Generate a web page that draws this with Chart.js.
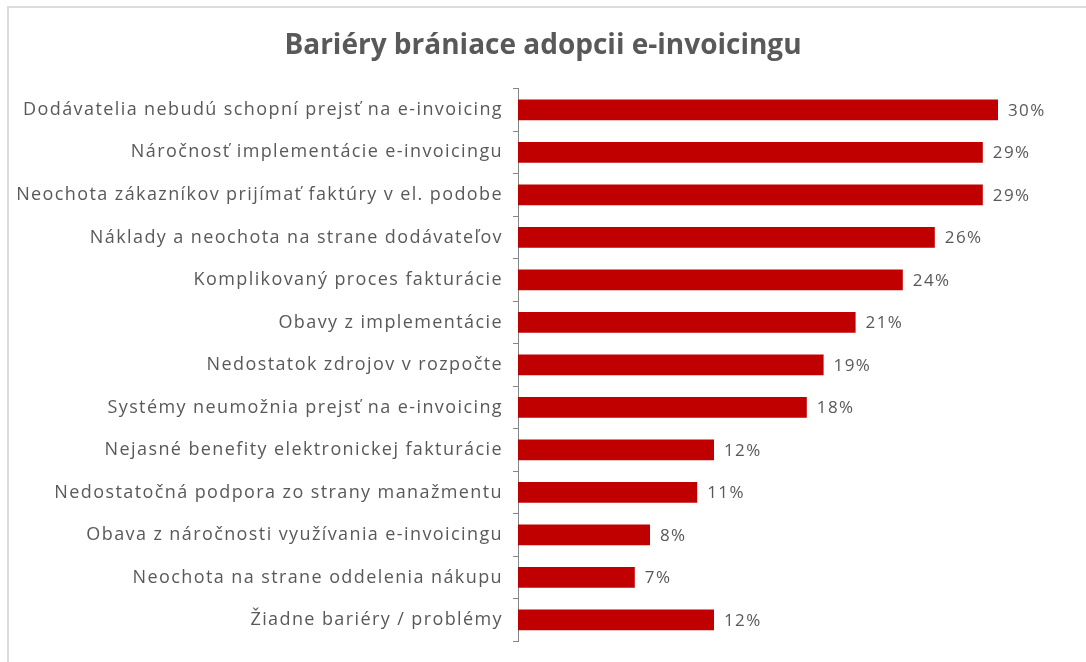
<!DOCTYPE html>
<html>
<head>
<meta charset="utf-8">
<script src="https://cdn.jsdelivr.net/npm/chart.js@4/dist/chart.umd.min.js"></script>
<style>
  html, body { margin: 0; padding: 0; background: #fff; }
  #wrap { position: relative; width: 1086px; height: 662px; }
  #frame {
    position: absolute; left: 7px; top: 6px; right: 0; bottom: 0;
    border-top: 2px solid #dcdcdc; border-left: 2px solid #dcdcdc;
    pointer-events: none;
  }
</style>
</head>
<body>
<div id="wrap">
  <canvas id="chart" width="1086" height="662"></canvas>
  <div id="frame"></div>
</div>
<script>
// Barriers to e-invoicing adoption (share of respondents, %)
const categories = [
  'Dodávatelia nebudú schopní prejsť na e-invoicing',
  'Náročnosť implementácie e-invoicingu',
  'Neochota zákazníkov prijímať faktúry v el. podobe',
  'Náklady a neochota na strane dodávateľov',
  'Komplikovaný proces fakturácie',
  'Obavy z implementácie',
  'Nedostatok zdrojov v rozpočte',
  'Systémy neumožnia prejsť na e-invoicing',
  'Nejasné benefity elektronickej fakturácie',
  'Nedostatočná podpora zo strany manažmentu',
  'Obava z náročnosti využívania e-invoicingu',
  'Neochota na strane oddelenia nákupu',
  'Žiadne bariéry / problémy'
]
const values = [30, 29.05, 29.05, 26.05, 24.05, 21.1, 19.1, 18.05, 12.25, 11.2, 8.25, 7.3, 12.25]

const textColor = '#595959'
const barColor = '#c00000'
const fontFamily = "'Open Sans', 'Noto Sans', sans-serif"

// draws "NN%" to the right of each bar
const valueLabels = {
  id: 'valueLabels',
  afterDatasetsDraw(chart) {
    const ctx = chart.ctx
    const meta = chart.getDatasetMeta(0)
    ctx.save()
    ctx.fillStyle = textColor
    ctx.font = `17px ${fontFamily}`
    ctx.letterSpacing = '1.4px'
    ctx.textAlign = 'left'
    ctx.textBaseline = 'middle'
    meta.data.forEach((bar, i) => {
      ctx.fillText(Math.round(values[i]) + '%', bar.x + 10, bar.y + 1)
    })
    ctx.restore()
  }
}

new Chart(document.getElementById('chart'), {
  type: 'bar',
  data: {
    labels: categories,
    datasets: [{
      data: values,
      backgroundColor: barColor,
      borderWidth: 0,
      barPercentage: 0.98,
      categoryPercentage: 0.5
    }]
  },
  plugins: [valueLabels],
  options: {
    indexAxis: 'y',
    responsive: false,
    animation: false,
    layout: { padding: { left: 8, right: 8, top: 0, bottom: 16 } },
    plugins: {
      legend: { display: false },
      tooltip: { enabled: false },
      title: {
        display: true,
        text: 'Bariéry brániace adopcii e-invoicingu',
        color: textColor,
        font: { family: fontFamily, size: 28, weight: 'bold' },
        padding: { top: 29, bottom: 26 }
      }
    },
    scales: {
      x: {
        display: false,
        min: 0,
        max: 35
      },
      y: {
        afterFit(scale) {
          scale.width = 510
          // the category labels in the original are loosely tracked
          if (!scale._tracked) {
            const drawLabels = scale.drawLabels.bind(scale)
            scale.drawLabels = (area) => {
              scale.ctx.letterSpacing = '1.4px'
              drawLabels(area)
              scale.ctx.letterSpacing = '0px'
            }
            scale._tracked = true
          }
        },
        border: { display: true, color: '#868686', width: 1 },
        grid: { drawOnChartArea: false, tickLength: 5, color: '#868686', offset: true },
        ticks: {
          color: textColor,
          padding: 10,
          font: { family: fontFamily, size: 18 }
        }
      }
    }
  }
})
</script>
</body>
</html>
